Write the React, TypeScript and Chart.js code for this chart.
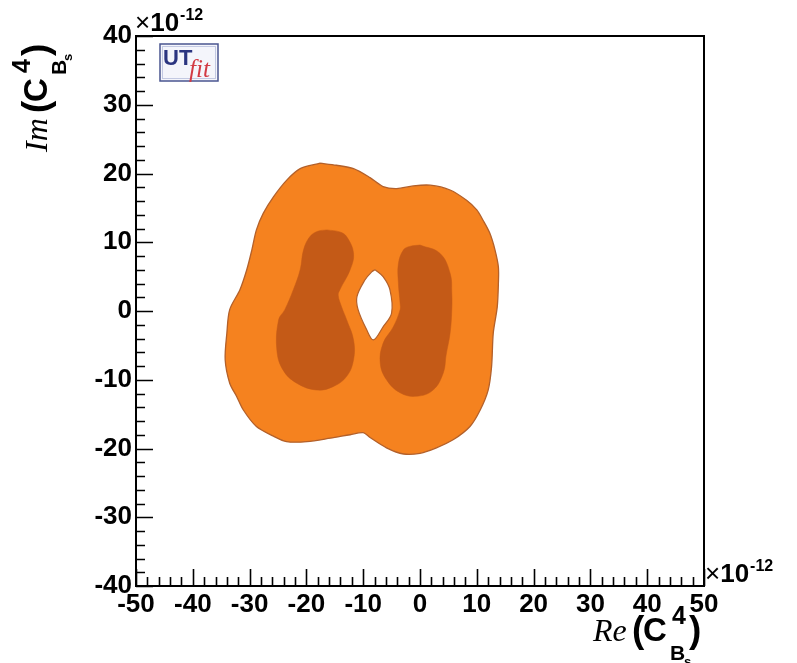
import React, { useEffect, useRef } from 'react';
import { Chart, registerables } from 'chart.js';

Chart.register(...registerables);

// Axis ranges (units of 1e-12)
const xMin = -50;
const xMax = 50;
const yMin = -40;
const yMax = 40;
const majorStep = 10;
const minorStep = 2;

// Outer (95% probability) contour
const outerRe = [-17.6, -14.7, -11.7, -8.8, -6.5, -4.1, -1.2, 1.8, 5.3, 8.2, 10.0, 11.1, 12.3, 13.2, 13.8, 13.8, 13.6, 12.9, 12.6, 12.0, 10.6, 8.8, 5.9, 2.9, 0.0, -2.9, -5.9, -8.8, -10.0, -12.3, -15.8, -19.9, -23.5, -25.8, -28.8, -31.1, -32.3, -33.5, -34.3, -34.0, -33.5, -31.7, -30.5, -29.6, -28.8, -27.6, -25.8, -23.5, -21.1, -17.6];
const outerIm = [21.5, 21.2, 20.7, 19.4, 18.1, 17.8, 18.2, 18.3, 17.6, 16.1, 14.7, 13.2, 11.3, 8.9, 6.4, 4.0, 0.6, -3.2, -8.1, -11.5, -14.4, -16.8, -18.7, -19.9, -20.7, -20.8, -19.9, -18.4, -17.7, -18.0, -18.5, -19.0, -19.0, -18.2, -16.8, -14.4, -12.4, -10.5, -7.1, -3.2, 0.2, 3.1, 6.0, 8.9, 11.8, 14.2, 16.6, 19.0, 20.7, 21.5];

// Inner (68% probability) left region
const leftRe = [-16.4, -14.1, -12.9, -11.7, -12.3, -14.1, -14.4, -13.8, -12.9, -11.7, -11.7, -12.9, -15.3, -18.2, -21.7, -24.1, -25.2, -24.9, -23.8, -22.3, -21.1, -20.5, -19.4, -18.0, -16.4];
const leftIm = [11.8, 11.5, 10.8, 8.4, 6.0, 3.1, 2.3, 0.6, -1.3, -4.2, -7.1, -9.5, -11.0, -11.5, -10.5, -8.6, -5.7, -1.3, 0.2, 3.1, 6.0, 8.9, 10.8, 11.6, 11.8];

// Inner (68% probability) right region
const rightRe = [0.0, 3.5, 5.3, 5.6, 5.6, 5.3, 4.6, 4.1, 2.3, -0.6, -3.5, -5.9, -7.0, -6.5, -4.7, -3.5, -3.5, -3.8, -3.8, -2.9, -1.8, 0.0];
const rightIm = [9.6, 8.4, 5.5, 2.6, 0.2, -3.2, -6.4, -9.0, -11.5, -12.4, -11.9, -10.0, -7.6, -4.7, -2.3, 0.2, 1.1, 4.0, 6.9, 8.9, 9.4, 9.6];

// Excluded hole in the centre
const holeRe = [-7.9, -6.5, -5.3, -5.0, -6.5, -8.2, -9.4, -10.9, -11.1, -9.7, -8.5, -7.9];
const holeIm = [6.0, 5.0, 3.1, -0.3, -2.3, -4.2, -2.7, 0.2, 2.1, 4.5, 5.7, 6.0];

const zip = (xs: number[], ys: number[]) => xs.map((x, i) => ({ x, y: ys[i] }));

const ORANGE = '#f5821f';
const DARK = '#c45a17';
const EDGE = '#b3602a';

const SANS = '"Liberation Sans", Arial, Helvetica, sans-serif';
const SERIF = '"Liberation Serif", "Times New Roman", serif';

function drawTitle(ctx: CanvasRenderingContext2D, prefix: string) {
  ctx.fillStyle = '#000';
  ctx.textBaseline = 'alphabetic';
  ctx.textAlign = 'left';
  ctx.font = `italic 32px ${SERIF}`;
  ctx.fillText(prefix, 0, 0);
  ctx.font = `bold 37px ${SANS}`;
  ctx.fillText('(', 39, 1);
  ctx.font = `bold 33px ${SANS}`;
  ctx.fillText('C', 50, 0);
  ctx.font = `bold 25px ${SANS}`;
  ctx.fillText('4', 79, -17);
  ctx.font = `bold 21px ${SANS}`;
  ctx.fillText('B', 77, 19);
  ctx.font = `bold 13px ${SANS}`;
  ctx.fillText('s', 91, 25);
  ctx.font = `bold 37px ${SANS}`;
  ctx.fillText(')', 96, 1);
}

function drawExp(ctx: CanvasRenderingContext2D, x: number, y: number) {
  ctx.fillStyle = '#000';
  ctx.textAlign = 'left';
  ctx.textBaseline = 'alphabetic';
  ctx.font = `26px ${SANS}`;
  ctx.fillText('\u00d7', x, y);
  const w = ctx.measureText('\u00d7').width;
  ctx.font = `bold 26px ${SANS}`;
  ctx.fillText('10', x + w, y);
  const w2 = ctx.measureText('10').width;
  ctx.font = `bold 16px ${SANS}`;
  ctx.fillText('-12', x + w + w2 + 1, y - 11);
}

const decorPlugin = {
  id: 'decor',
  afterDraw(chart: any) {
    const { ctx, chartArea: a, scales } = chart;
    const xs = scales.x;
    const ys = scales.y;
    ctx.save();
    // frame
    ctx.strokeStyle = '#000';
    ctx.lineWidth = 2;
    ctx.strokeRect(a.left, a.top, a.right - a.left, a.bottom - a.top);
    // ticks
    ctx.lineWidth = 1.6;
    ctx.beginPath();
    for (let v = xMin; v <= xMax + 1e-9; v += minorStep) {
      const px = Math.round(xs.getPixelForValue(v)) + 0.5;
      const len = v % majorStep === 0 ? 17 : 9;
      ctx.moveTo(px, a.bottom);
      ctx.lineTo(px, a.bottom - len);
    }
    for (let v = yMin; v <= yMax + 1e-9; v += minorStep) {
      const py = Math.round(ys.getPixelForValue(v)) + 0.5;
      const len = v % majorStep === 0 ? 17 : 9;
      ctx.moveTo(a.left, py);
      ctx.lineTo(a.left + len, py);
    }
    ctx.stroke();
    // exponent labels
    drawExp(ctx, a.left - 1, 31);
    drawExp(ctx, a.right + 1, a.bottom - 4);
    // axis titles
    ctx.save();
    ctx.translate(593, 641);
    drawTitle(ctx, 'Re');
    ctx.restore();
    ctx.save();
    ctx.translate(47, 152);
    ctx.rotate(-Math.PI / 2);
    drawTitle(ctx, 'Im');
    ctx.restore();
    // UTfit logo
    const lx = 160, ly = 44, lw = 58, lh = 37;
    ctx.fillStyle = '#f4f5fb';
    ctx.fillRect(lx, ly, lw, lh);
    ctx.strokeStyle = '#4a5590';
    ctx.lineWidth = 1.5;
    ctx.strokeRect(lx, ly, lw, lh);
    ctx.strokeStyle = '#c3c9e2';
    ctx.lineWidth = 1;
    ctx.strokeRect(lx + 2.5, ly + 2.5, lw - 5, lh - 5);
    ctx.fillStyle = '#2b3580';
    ctx.font = `bold 22px ${SANS}`;
    ctx.fillText('UT', lx + 3, ly + 21);
    ctx.fillStyle = '#d23a44';
    ctx.font = `italic 25px ${SERIF}`;
    ctx.fillText('fit', lx + 29, ly + 33);
    ctx.restore();
  },
};

export default function App() {
  const ref = useRef<HTMLCanvasElement | null>(null);
  useEffect(() => {
    if (!ref.current) return;
    const tickFont = { family: SANS, weight: 'bold' as const, size: 26 };
    const chart = new Chart(ref.current, {
      type: 'scatter',
      data: {
        datasets: [
          {
            label: 'hole',
            data: zip(holeRe, holeIm),
            showLine: true,
            fill: 'shape',
            backgroundColor: '#ffffff',
            borderColor: EDGE,
            borderWidth: 1.2,
            pointRadius: 0,
            tension: 0.35,
            order: 1,
          },
          {
            label: 'left68',
            data: zip(leftRe, leftIm),
            showLine: true,
            fill: 'shape',
            backgroundColor: DARK,
            borderColor: DARK,
            borderWidth: 0.5,
            pointRadius: 0,
            tension: 0.4,
            order: 2,
          },
          {
            label: 'right68',
            data: zip(rightRe, rightIm),
            showLine: true,
            fill: 'shape',
            backgroundColor: DARK,
            borderColor: DARK,
            borderWidth: 0.5,
            pointRadius: 0,
            tension: 0.4,
            order: 2,
          },
          {
            label: 'outer95',
            data: zip(outerRe, outerIm),
            showLine: true,
            fill: 'shape',
            backgroundColor: ORANGE,
            borderColor: EDGE,
            borderWidth: 1.3,
            pointRadius: 0,
            tension: 0.3,
            order: 3,
          },
        ],
      },
      options: {
        responsive: false,
        animation: false,
        devicePixelRatio: 1,
        events: [],
        layout: { padding: { left: 0, right: 93, top: 36, bottom: 0 } },
        plugins: {
          legend: { display: false },
          tooltip: { enabled: false },
        },
        scales: {
          x: {
            type: 'linear',
            min: xMin,
            max: xMax,
            grid: { display: false, drawTicks: false },
            border: { display: false },
            ticks: { stepSize: majorStep, color: '#000', font: tickFont, padding: 3, maxRotation: 0, autoSkip: false },
            afterFit: (s: any) => { s.height = 77; },
          },
          y: {
            type: 'linear',
            min: yMin,
            max: yMax,
            grid: { display: false, drawTicks: false },
            border: { display: false },
            ticks: { stepSize: majorStep, color: '#000', font: tickFont, padding: 4, autoSkip: false },
            afterFit: (s: any) => { s.width = 136; },
          },
        },
      },
      plugins: [decorPlugin],
    } as any);
    return () => chart.destroy();
  }, []);
  return (
    <div style={{ position: 'absolute', left: 0, top: 0, width: 797, height: 663, background: '#fff' }}>
      <canvas ref={ref} width={797} height={663} style={{ display: 'block' }} />
    </div>
  );
}
